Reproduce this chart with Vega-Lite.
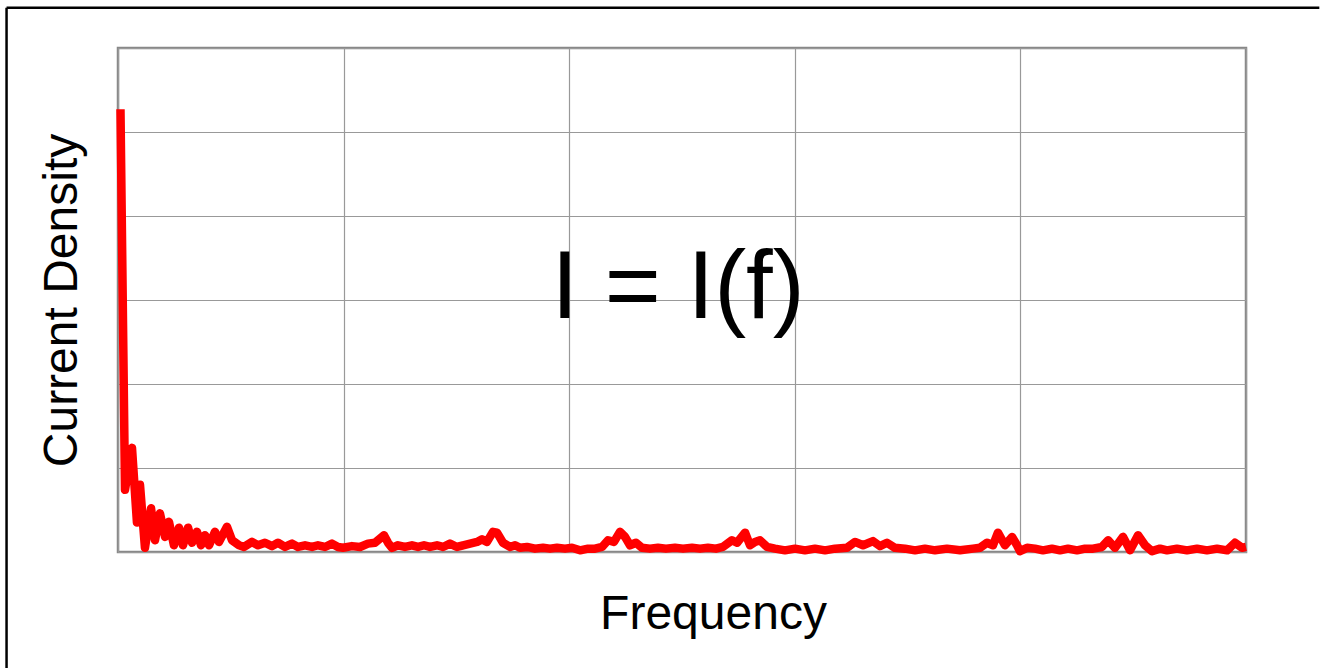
{
  "$schema": "https://vega.github.io/schema/vega-lite/v6.json",
  "width": 1128,
  "height": 504,
  "autosize": {"type": "none"},
  "padding": {"left": 118, "top": 48, "right": 75, "bottom": 116},
  "background": "white",
  "config": {
    "font": "Liberation Sans",
    "view": {"stroke": "#888888", "strokeWidth": 2.5}
  },
  "datasets": {
    "curve": [
      {"frequency": 0.22, "density": 5.27},
      {"frequency": 0.62, "density": 0.74},
      {"frequency": 1.24, "density": 1.24},
      {"frequency": 1.68, "density": 0.35},
      {"frequency": 1.95, "density": 0.80},
      {"frequency": 2.39, "density": 0.05},
      {"frequency": 2.93, "density": 0.52},
      {"frequency": 3.28, "density": 0.14},
      {"frequency": 3.72, "density": 0.46},
      {"frequency": 4.17, "density": 0.18},
      {"frequency": 4.52, "density": 0.36},
      {"frequency": 4.96, "density": 0.08},
      {"frequency": 5.41, "density": 0.29},
      {"frequency": 5.76, "density": 0.08},
      {"frequency": 6.21, "density": 0.29},
      {"frequency": 6.56, "density": 0.11},
      {"frequency": 7.00, "density": 0.24},
      {"frequency": 7.36, "density": 0.08},
      {"frequency": 7.71, "density": 0.20},
      {"frequency": 8.07, "density": 0.08},
      {"frequency": 8.60, "density": 0.24},
      {"frequency": 8.95, "density": 0.12},
      {"frequency": 9.66, "density": 0.30},
      {"frequency": 10.11, "density": 0.14},
      {"frequency": 10.73, "density": 0.08},
      {"frequency": 11.17, "density": 0.06},
      {"frequency": 11.88, "density": 0.12},
      {"frequency": 12.41, "density": 0.08},
      {"frequency": 13.03, "density": 0.11},
      {"frequency": 13.65, "density": 0.07},
      {"frequency": 14.18, "density": 0.11},
      {"frequency": 14.80, "density": 0.06},
      {"frequency": 15.43, "density": 0.10},
      {"frequency": 15.96, "density": 0.06},
      {"frequency": 16.58, "density": 0.08},
      {"frequency": 17.20, "density": 0.06},
      {"frequency": 17.73, "density": 0.08},
      {"frequency": 18.35, "density": 0.06},
      {"frequency": 18.97, "density": 0.10},
      {"frequency": 19.50, "density": 0.06},
      {"frequency": 19.95, "density": 0.05},
      {"frequency": 20.74, "density": 0.07},
      {"frequency": 21.45, "density": 0.06},
      {"frequency": 22.16, "density": 0.10},
      {"frequency": 22.78, "density": 0.11},
      {"frequency": 23.58, "density": 0.20},
      {"frequency": 23.94, "density": 0.11},
      {"frequency": 24.29, "density": 0.05},
      {"frequency": 24.82, "density": 0.08},
      {"frequency": 25.44, "density": 0.06},
      {"frequency": 26.06, "density": 0.08},
      {"frequency": 26.60, "density": 0.06},
      {"frequency": 27.13, "density": 0.08},
      {"frequency": 27.66, "density": 0.06},
      {"frequency": 28.28, "density": 0.08},
      {"frequency": 28.81, "density": 0.06},
      {"frequency": 29.43, "density": 0.10},
      {"frequency": 30.05, "density": 0.06},
      {"frequency": 30.59, "density": 0.08},
      {"frequency": 31.21, "density": 0.10},
      {"frequency": 31.83, "density": 0.12},
      {"frequency": 32.27, "density": 0.15},
      {"frequency": 32.71, "density": 0.12},
      {"frequency": 33.24, "density": 0.24},
      {"frequency": 33.60, "density": 0.23},
      {"frequency": 34.13, "density": 0.11},
      {"frequency": 34.75, "density": 0.06},
      {"frequency": 35.20, "density": 0.08},
      {"frequency": 35.64, "density": 0.05},
      {"frequency": 36.26, "density": 0.06},
      {"frequency": 36.97, "density": 0.04},
      {"frequency": 37.68, "density": 0.05},
      {"frequency": 38.30, "density": 0.04},
      {"frequency": 38.92, "density": 0.05},
      {"frequency": 39.63, "density": 0.04},
      {"frequency": 40.25, "density": 0.05},
      {"frequency": 40.96, "density": 0.02},
      {"frequency": 41.67, "density": 0.04},
      {"frequency": 42.29, "density": 0.04},
      {"frequency": 42.91, "density": 0.06},
      {"frequency": 43.44, "density": 0.14},
      {"frequency": 43.97, "density": 0.12},
      {"frequency": 44.50, "density": 0.24},
      {"frequency": 44.95, "density": 0.18},
      {"frequency": 45.39, "density": 0.08},
      {"frequency": 45.92, "density": 0.11},
      {"frequency": 46.45, "density": 0.05},
      {"frequency": 47.16, "density": 0.04},
      {"frequency": 47.87, "density": 0.05},
      {"frequency": 48.58, "density": 0.04},
      {"frequency": 49.38, "density": 0.05},
      {"frequency": 50.09, "density": 0.04},
      {"frequency": 50.89, "density": 0.05},
      {"frequency": 51.60, "density": 0.04},
      {"frequency": 52.30, "density": 0.05},
      {"frequency": 53.01, "density": 0.04},
      {"frequency": 53.63, "density": 0.06},
      {"frequency": 54.43, "density": 0.14},
      {"frequency": 54.88, "density": 0.11},
      {"frequency": 55.59, "density": 0.23},
      {"frequency": 56.03, "density": 0.08},
      {"frequency": 56.47, "density": 0.12},
      {"frequency": 56.91, "density": 0.14},
      {"frequency": 57.54, "density": 0.06},
      {"frequency": 58.24, "density": 0.04},
      {"frequency": 59.13, "density": 0.02},
      {"frequency": 60.02, "density": 0.04},
      {"frequency": 60.90, "density": 0.02},
      {"frequency": 61.79, "density": 0.04},
      {"frequency": 62.68, "density": 0.02},
      {"frequency": 63.56, "density": 0.04},
      {"frequency": 64.63, "density": 0.05},
      {"frequency": 65.34, "density": 0.12},
      {"frequency": 66.05, "density": 0.08},
      {"frequency": 66.93, "density": 0.13},
      {"frequency": 67.55, "density": 0.07},
      {"frequency": 68.17, "density": 0.11},
      {"frequency": 68.88, "density": 0.05},
      {"frequency": 69.77, "density": 0.04},
      {"frequency": 70.66, "density": 0.02},
      {"frequency": 71.54, "density": 0.04},
      {"frequency": 72.43, "density": 0.02},
      {"frequency": 73.49, "density": 0.04},
      {"frequency": 74.65, "density": 0.02},
      {"frequency": 75.80, "density": 0.04},
      {"frequency": 76.42, "density": 0.05},
      {"frequency": 77.04, "density": 0.11},
      {"frequency": 77.57, "density": 0.08},
      {"frequency": 78.01, "density": 0.23},
      {"frequency": 78.63, "density": 0.08},
      {"frequency": 79.26, "density": 0.18},
      {"frequency": 79.70, "density": 0.08},
      {"frequency": 79.96, "density": 0.01},
      {"frequency": 80.59, "density": 0.05},
      {"frequency": 81.29, "density": 0.04},
      {"frequency": 82.00, "density": 0.02},
      {"frequency": 82.80, "density": 0.04},
      {"frequency": 83.51, "density": 0.02},
      {"frequency": 84.22, "density": 0.04},
      {"frequency": 85.02, "density": 0.02},
      {"frequency": 85.73, "density": 0.04},
      {"frequency": 86.44, "density": 0.04},
      {"frequency": 87.23, "density": 0.06},
      {"frequency": 87.77, "density": 0.14},
      {"frequency": 88.39, "density": 0.05},
      {"frequency": 89.10, "density": 0.18},
      {"frequency": 89.72, "density": 0.02},
      {"frequency": 90.43, "density": 0.20},
      {"frequency": 91.05, "density": 0.08},
      {"frequency": 91.67, "density": 0.01},
      {"frequency": 92.38, "density": 0.04},
      {"frequency": 93.00, "density": 0.02},
      {"frequency": 93.88, "density": 0.04},
      {"frequency": 94.77, "density": 0.02},
      {"frequency": 95.66, "density": 0.04},
      {"frequency": 96.54, "density": 0.02},
      {"frequency": 97.43, "density": 0.04},
      {"frequency": 98.32, "density": 0.02},
      {"frequency": 99.02, "density": 0.11},
      {"frequency": 99.65, "density": 0.05},
      {"frequency": 100.0, "density": 0.06}
    ]
  },
  "encoding": {
    "x": {
      "type": "quantitative",
      "scale": {"domain": [0, 100], "nice": false, "zero": false},
      "axis": {
        "title": "Frequency",
        "labels": false,
        "ticks": false,
        "domain": false,
        "grid": true,
        "values": [0, 20, 40, 60, 80, 100],
        "gridColor": "#999999",
        "gridWidth": 1.2,
        "gridOpacity": 1,
        "titleFont": "Liberation Sans",
        "titleFontSize": 48,
        "titleFontWeight": "normal",
        "titleColor": "#000000",
        "titleBaseline": "alphabetic",
        "titleAlign": "center",
        "titleX": 595,
        "titleY": 76
      }
    },
    "y": {
      "type": "quantitative",
      "scale": {"domain": [0, 6], "nice": false, "zero": false},
      "axis": {
        "title": "Current Density",
        "labels": false,
        "ticks": false,
        "domain": false,
        "grid": true,
        "values": [0, 1, 2, 3, 4, 5, 6],
        "gridColor": "#999999",
        "gridWidth": 1.2,
        "gridOpacity": 1,
        "titleFont": "Liberation Sans",
        "titleFontSize": 48,
        "titleFontWeight": "normal",
        "titleColor": "#000000",
        "titleAngle": -90,
        "titleBaseline": "alphabetic",
        "titleAlign": "center",
        "titleX": -42,
        "titleY": 252
      }
    }
  },
  "layer": [
    {
      "data": {"name": "curve"},
      "mark": {"type": "line", "color": "#ff0000", "strokeWidth": 8.5, "strokeJoin": "round", "strokeCap": "butt"},
      "encoding": {
        "x": {"field": "frequency", "type": "quantitative"},
        "y": {"field": "density", "type": "quantitative"}
      }
    },
    {
      "data": {"values": [{"label": "I = I(f)"}]},
      "mark": {"type": "text", "font": "Liberation Sans", "fontSize": 96, "color": "#000000", "align": "center", "baseline": "alphabetic"},
      "encoding": {
        "x": {"datum": 49.65, "type": "quantitative"},
        "y": {"datum": 2.79, "type": "quantitative"},
        "text": {"field": "label", "type": "nominal"}
      }
    },
    {
      "data": {"values": [{"edge": "left"}]},
      "mark": {"type": "rule", "color": "#000000", "strokeWidth": 2.5, "clip": false},
      "encoding": {
        "x": {"datum": -9.88, "type": "quantitative"},
        "y": {"datum": 6.48, "type": "quantitative"},
        "y2": {"datum": -1.6}
      }
    },
    {
      "data": {"values": [{"edge": "top"}]},
      "mark": {"type": "rule", "color": "#000000", "strokeWidth": 2.5, "clip": false},
      "encoding": {
        "y": {"datum": 6.48, "type": "quantitative"},
        "x": {"datum": -9.88, "type": "quantitative"},
        "x2": {"datum": 106.5}
      }
    }
  ]
}
